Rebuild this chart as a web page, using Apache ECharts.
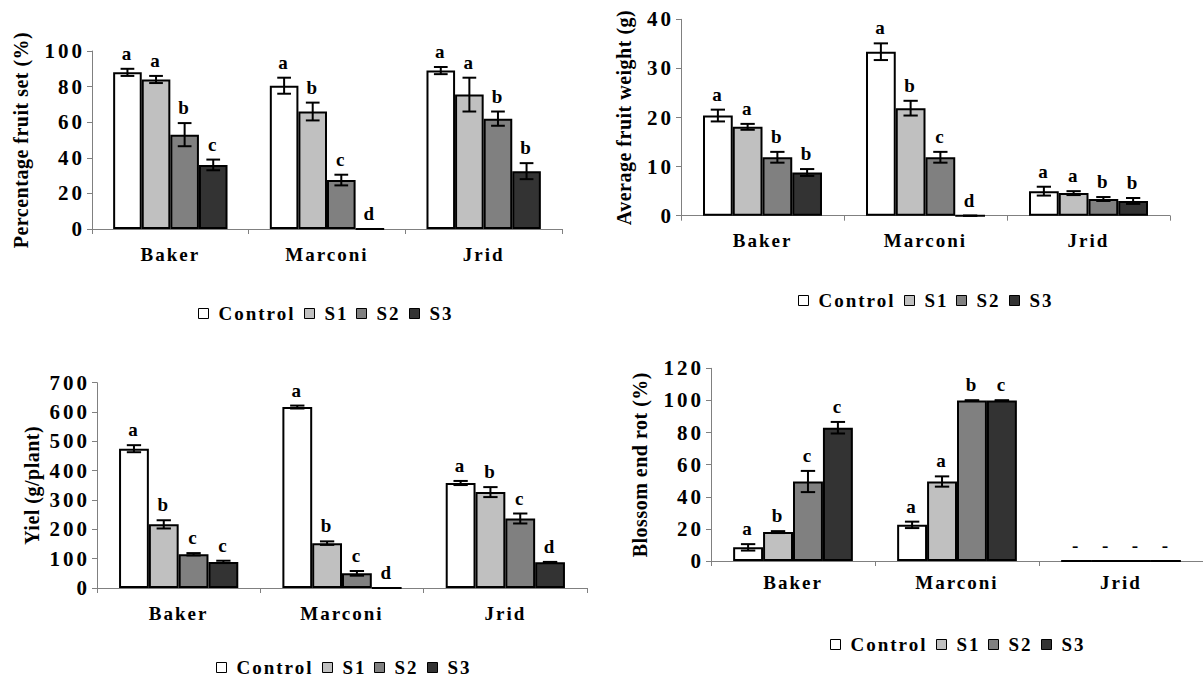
<!DOCTYPE html>
<html><head><meta charset="utf-8">
<script src="https://cdn.jsdelivr.net/npm/echarts@6/dist/echarts.min.js"></script>
<style>
html,body{margin:0;padding:0;background:#fff;}
#chart{width:1203px;height:677px;}
#chart text{letter-spacing:2px;}
</style></head><body>
<div id="chart"></div>
<script>
const categories = ['Baker', 'Marconi', 'Jrid'];
const treatments = ['Control', 'S1', 'S2', 'S3'];

// Percentage fruit set (%) — rows: Control, S1, S2, S3; columns: Baker, Marconi, Jrid
const fruitSetMeans   = [[88, 80.5, 89], [84, 66, 75.5], [53, 27.5, 62], [36, 0, 32.5]];
const fruitSetErrors  = [[2, 4.5, 2], [2, 5, 9.5], [6.5, 3, 4], [3, 0, 4.5]];
const fruitSetLetters = [['a', 'a', 'a'], ['a', 'b', 'a'], ['b', 'c', 'b'], ['c', 'd', 'b']];

// Average fruit weight (g)
const weightMeans   = [[20.4, 33.4, 5], [18.1, 21.9, 4.6], [11.9, 11.9, 3.4], [8.8, 0, 3]];
const weightErrors  = [[1.2, 1.7, 0.9], [0.6, 1.5, 0.4], [1.1, 1.1, 0.4], [0.7, 0, 0.6]];
const weightLetters = [['a', 'a', 'a'], ['a', 'b', 'a'], ['b', 'c', 'b'], ['b', 'd', 'b']];

// Yield (g/plant)
const yieldMeans   = [[475, 617, 358], [217, 153, 327], [115, 50, 237], [89, 0, 88]];
const yieldErrors  = [[12, 5, 7], [14, 6, 17], [4, 8, 17], [4, 0, 1]];
const yieldLetters = [['a', 'a', 'a'], ['b', 'b', 'b'], ['c', 'c', 'c'], ['c', 'd', 'd']];

// Blossom end rot (%)
const berMeans   = [[8.5, 22.5, 0], [18, 49.5, 0], [49.5, 100, 0], [83, 100, 0]];
const berErrors  = [[2, 2, 0], [0.6, 3.2, 0], [6.6, 0, 0], [3.6, 0, 0]];
const berLetters = [['a', 'a', '-'], ['b', 'a', '-'], ['c', 'b', '-'], ['c', 'c', '-']];

const yTitles = ['Percentage fruit set (%)', 'Average fruit weight (g)', 'Yiel (g/plant)', 'Blossom end rot (%)'];
const yMaxes = [100, 40, 700, 120];
const yIntervals = [20, 10, 100, 20];

const fills = ['#ffffff', '#c0c0c0', '#808080', '#333333'];
const FONT = '"Liberation Serif", "Times New Roman", serif';
const CAT_GAP = 0.27;
const legendOffsets = [0, 106, 158, 211];

const panels = [
  {grid: {left: 92, top: 51, width: 470, height: 178}, nameGap: 61, labelMargin: 16, legend: {left: 198, top: 304},
   means: fruitSetMeans, errs: fruitSetErrors, letters: fruitSetLetters},
  {grid: {left: 681, top: 19.3, width: 489, height: 196.4}, nameGap: 47, labelMargin: 15, legend: {left: 798, top: 291},
   means: weightMeans, errs: weightErrors, letters: weightLetters},
  {grid: {left: 97, top: 382.7, width: 490, height: 205.3}, nameGap: 55, labelMargin: 16, legend: {left: 216, top: 658},
   means: yieldMeans, errs: yieldErrors, letters: yieldLetters},
  {grid: {left: 711, top: 368.3, width: 504, height: 192.7}, nameGap: 61, labelMargin: 12, legend: {left: 830, top: 635},
   means: berMeans, errs: berErrors, letters: berLetters}
];

function errRender(k, letters) {
  return function (params, api) {
    const ci = api.value(0), v = api.value(1), e = api.value(2);
    const c = api.coord([ci, v]);
    const band = api.size([1, 0])[0];
    const bw = band * (1 - CAT_GAP) / 4;
    const x = c[0] + (k - 1.5) * bw;
    const yHi = api.coord([ci, v + e])[1];
    const yLo = api.coord([ci, v - e])[1];
    const cap = bw * 0.24;
    const st = {stroke: '#000', lineWidth: 2};
    return {
      type: 'group',
      children: [
        {type: 'line', shape: {x1: x, y1: yHi, x2: x, y2: yLo}, style: st},
        {type: 'line', shape: {x1: x - cap, y1: yHi, x2: x + cap, y2: yHi}, style: st},
        {type: 'line', shape: {x1: x - cap, y1: yLo, x2: x + cap, y2: yLo}, style: st},
        {type: 'text', x: x, y: yHi - 6,
         style: {text: letters[k][params.dataIndex], textAlign: 'center', textVerticalAlign: 'bottom',
                 font: 'bold 19px ' + FONT, fill: '#000'}}
      ]
    };
  };
}

const series = [];
panels.forEach((p, i) => {
  treatments.forEach((t, k) => {
    series.push({
      type: 'bar', name: t, xAxisIndex: i, yAxisIndex: i,
      data: p.means[k], barGap: '0%', barCategoryGap: (CAT_GAP * 100) + '%',
      itemStyle: {color: fills[k], borderColor: '#000', borderWidth: 2},
      silent: true
    });
  });
  treatments.forEach((t, k) => {
    series.push({
      type: 'custom', name: 'err-' + i + '-' + k, xAxisIndex: i, yAxisIndex: i,
      data: p.means[k].map((v, ci) => [ci, v, p.errs[k][ci]]),
      encode: {x: 0, y: 1},
      renderItem: errRender(k, p.letters),
      z: 5, silent: true, clip: false
    });
  });
});

const legendFont = {color: '#000', fontFamily: FONT, fontWeight: 'bold', fontSize: 19, padding: [0, 0, 0, 5]};
const legends = [];
panels.forEach(p => {
  treatments.forEach((t, k) => {
    legends.push({
      data: [t], left: p.legend.left + legendOffsets[k], top: p.legend.top, orient: 'horizontal',
      padding: 0, itemWidth: 10, itemHeight: 10, icon: 'rect', selectedMode: false,
      itemStyle: {borderColor: '#000', borderWidth: 1},
      textStyle: legendFont
    });
  });
});

const option = {
  animation: false,
  backgroundColor: '#fff',
  grid: panels.map(p => Object.assign({containLabel: false}, p.grid)),
  xAxis: panels.map((p, i) => ({
    type: 'category', gridIndex: i, data: categories,
    axisLine: {lineStyle: {color: '#808080', width: 1}},
    axisTick: {show: true, length: 5, interval: 0, lineStyle: {color: '#808080', width: 1}},
    axisLabel: {margin: p.labelMargin, color: '#000', fontFamily: FONT, fontWeight: 'bold', fontSize: 19, interval: 0}
  })),
  yAxis: panels.map((p, i) => ({
    type: 'value', gridIndex: i, min: 0, max: yMaxes[i], interval: yIntervals[i],
    axisLine: {show: true, lineStyle: {color: '#808080', width: 1}},
    axisTick: {show: true, length: 5, lineStyle: {color: '#808080', width: 1}},
    splitLine: {show: false},
    axisLabel: {margin: 7, color: '#000', fontFamily: FONT, fontWeight: 'bold', fontSize: 21},
    name: yTitles[i], nameLocation: 'middle', nameRotate: 90, nameGap: p.nameGap,
    nameTextStyle: {color: '#000', fontFamily: FONT, fontWeight: 'bold', fontSize: 20}
  })),
  legend: legends,
  series: series
};

const chart = echarts.init(document.getElementById('chart'), null, {renderer: 'svg'});
chart.setOption(option);
function fixText() {
  document.querySelectorAll('#chart text').forEach(t => {
    if (yTitles.indexOf(t.textContent) >= 0) t.style.letterSpacing = '0.5px';
    else if (/^\d+$/.test(t.textContent)) t.style.letterSpacing = '3px';
  });
}
chart.on('finished', fixText);
fixText();
setTimeout(fixText, 50);
</script>
</body></html>
